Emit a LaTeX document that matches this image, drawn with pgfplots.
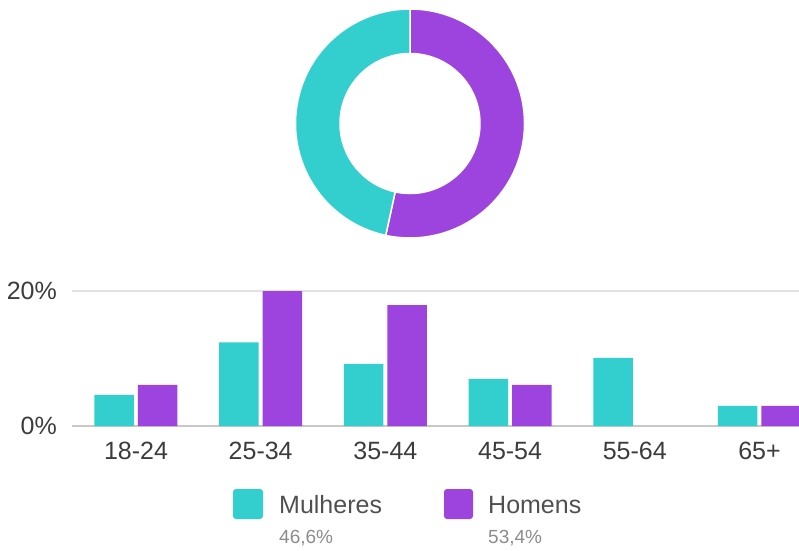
\documentclass[border=0pt]{standalone}
\usepackage{pgfplots}
\pgfplotsset{compat=1.18}
\usepackage{fontspec}
\setmainfont{Liberation Sans}
\definecolor{teal1}{RGB}{51,206,206}
\definecolor{purp}{RGB}{157,67,222}
\definecolor{gridc}{RGB}{226,226,226}
\definecolor{basec}{RGB}{200,200,200}
\definecolor{txt}{RGB}{60,60,60}
\definecolor{leg}{RGB}{80,80,80}
\definecolor{sub}{RGB}{140,140,140}

\begin{document}
\begin{tikzpicture}
% ---- donut: share of Homens / Mulheres ----
\def\homens{53.4}
\def\mulheres{46.6}
\pgfmathsetmacro\split{90-3.6*\homens}
\coordinate (C) at (410pt,426.5pt);
\path[fill=purp,draw=white,line width=1.5pt]
  ([shift={(90:114.5pt)}]C) arc[start angle=90,end angle=\split,radius=114.5pt]
  -- ([shift={(\split:70pt)}]C) arc[start angle=\split,end angle=90,radius=70pt] -- cycle;
\path[fill=teal1,draw=white,line width=1.5pt]
  ([shift={(\split:114.5pt)}]C) arc[start angle=\split,end angle=-270,radius=114.5pt]
  -- ([shift={(90:70pt)}]C) arc[start angle=-270,end angle=\split,radius=70pt] -- cycle;

% ---- bars ----
\begin{axis}[
  at={(72pt,124pt)}, anchor=south west,
  x=124.7pt, y=6.75pt,
  xmin=-0.513, xmax=5.6, ymin=0, ymax=20,
  enlargelimits=false,
  ybar=4pt, bar width=39.5pt,
  axis line style={draw=none},
  major tick length=0pt,
  xtick={0,1,2,3,4,5},
  xticklabels={18-24,25-34,35-44,45-54,55-64,65+},
  ytick={0,20},
  yticklabels={0\%,20\%},
  ymajorgrids,
  grid style={gridc,line width=1.5pt},
  tick label style={font=\fontsize{25}{25}\selectfont, text=txt, inner sep=0pt},
  xticklabel style={anchor=north, yshift=-16pt},
  yticklabel style={anchor=east, xshift=-15pt},
  /pgf/number format/assume math mode=true,
]
\draw[basec,line width=1.5pt] (axis cs:-0.513,0) -- (axis cs:5.6,0);
\addplot[fill=teal1,draw=none] coordinates {(0,4.6) (1,12.4) (2,9.2) (3,7.0) (4,10.1) (5,3.0)};
\addplot[fill=purp,draw=none] coordinates {(0,6.1) (1,20.0) (2,17.9) (3,6.1) (5,3.0)};
\end{axis}

% ---- legend ----
\fill[teal1,rounded corners=3pt] (233pt,31pt) rectangle (263pt,61pt);
\node[anchor=base west,inner sep=0pt,font=\fontsize{25}{25}\selectfont,text=leg] at (279pt,37pt) {Mulheres};
\node[anchor=base west,inner sep=0pt,font=\fontsize{19}{19}\selectfont,text=sub] at (279pt,7pt) {46,6\%};
\fill[purp,rounded corners=3pt] (444pt,31pt) rectangle (473pt,61pt);
\node[anchor=base west,inner sep=0pt,font=\fontsize{25}{25}\selectfont,text=leg] at (488pt,37pt) {Homens};
\node[anchor=base west,inner sep=0pt,font=\fontsize{19}{19}\selectfont,text=sub] at (488pt,7pt) {53,4\%};

\pgfresetboundingbox
\path[use as bounding box] (0pt,0pt) rectangle (799pt,550pt);
\end{tikzpicture}
\end{document}
